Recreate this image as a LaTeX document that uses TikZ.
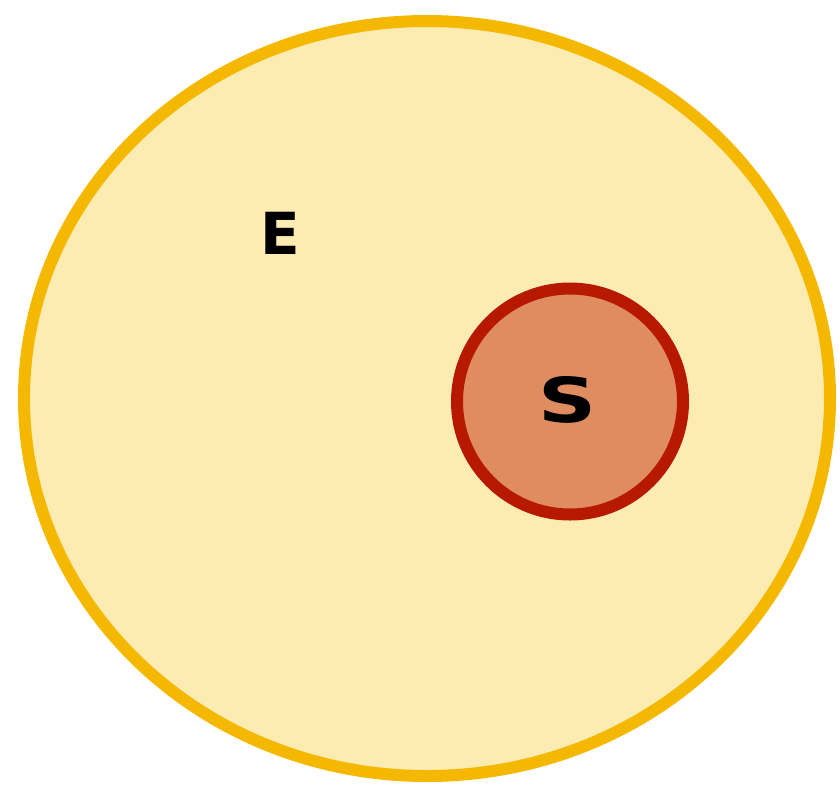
\documentclass[tikz,border=0pt]{standalone}
\usepackage{fontspec}
\setmainfont{DejaVu Sans}
\usetikzlibrary{shapes.geometric}
\definecolor{outerfill}{HTML}{FDECB2}
\definecolor{outerline}{HTML}{F5B800}
\definecolor{innerfill}{HTML}{DE8C60}
\definecolor{innerline}{HTML}{B71900}
\begin{document}
\begin{tikzpicture}[x=1pt,y=-1pt]
\tikzset{setlabel/.style={font=\bfseries\fontsize{58}{58}\selectfont, text=black, inner sep=0pt}}
\useasboundingbox (0,0) rectangle (840,788);
\node[draw=outerline, fill=outerfill, line width=12pt, ellipse, minimum width=806pt, minimum height=755pt, inner sep=0pt] (E) at (427,398.5) {};
\node[draw=innerline, fill=innerfill, line width=12pt, circle, minimum size=226pt, inner sep=0pt] (S) at (570,401.5) {};
\node[setlabel] (Elab) at (280,233) {E};
\node[setlabel, font=\bfseries\fontsize{62}{62}\selectfont, xscale=1.3] (Slab) at (568,400) {S};
\end{tikzpicture}
\end{document}
